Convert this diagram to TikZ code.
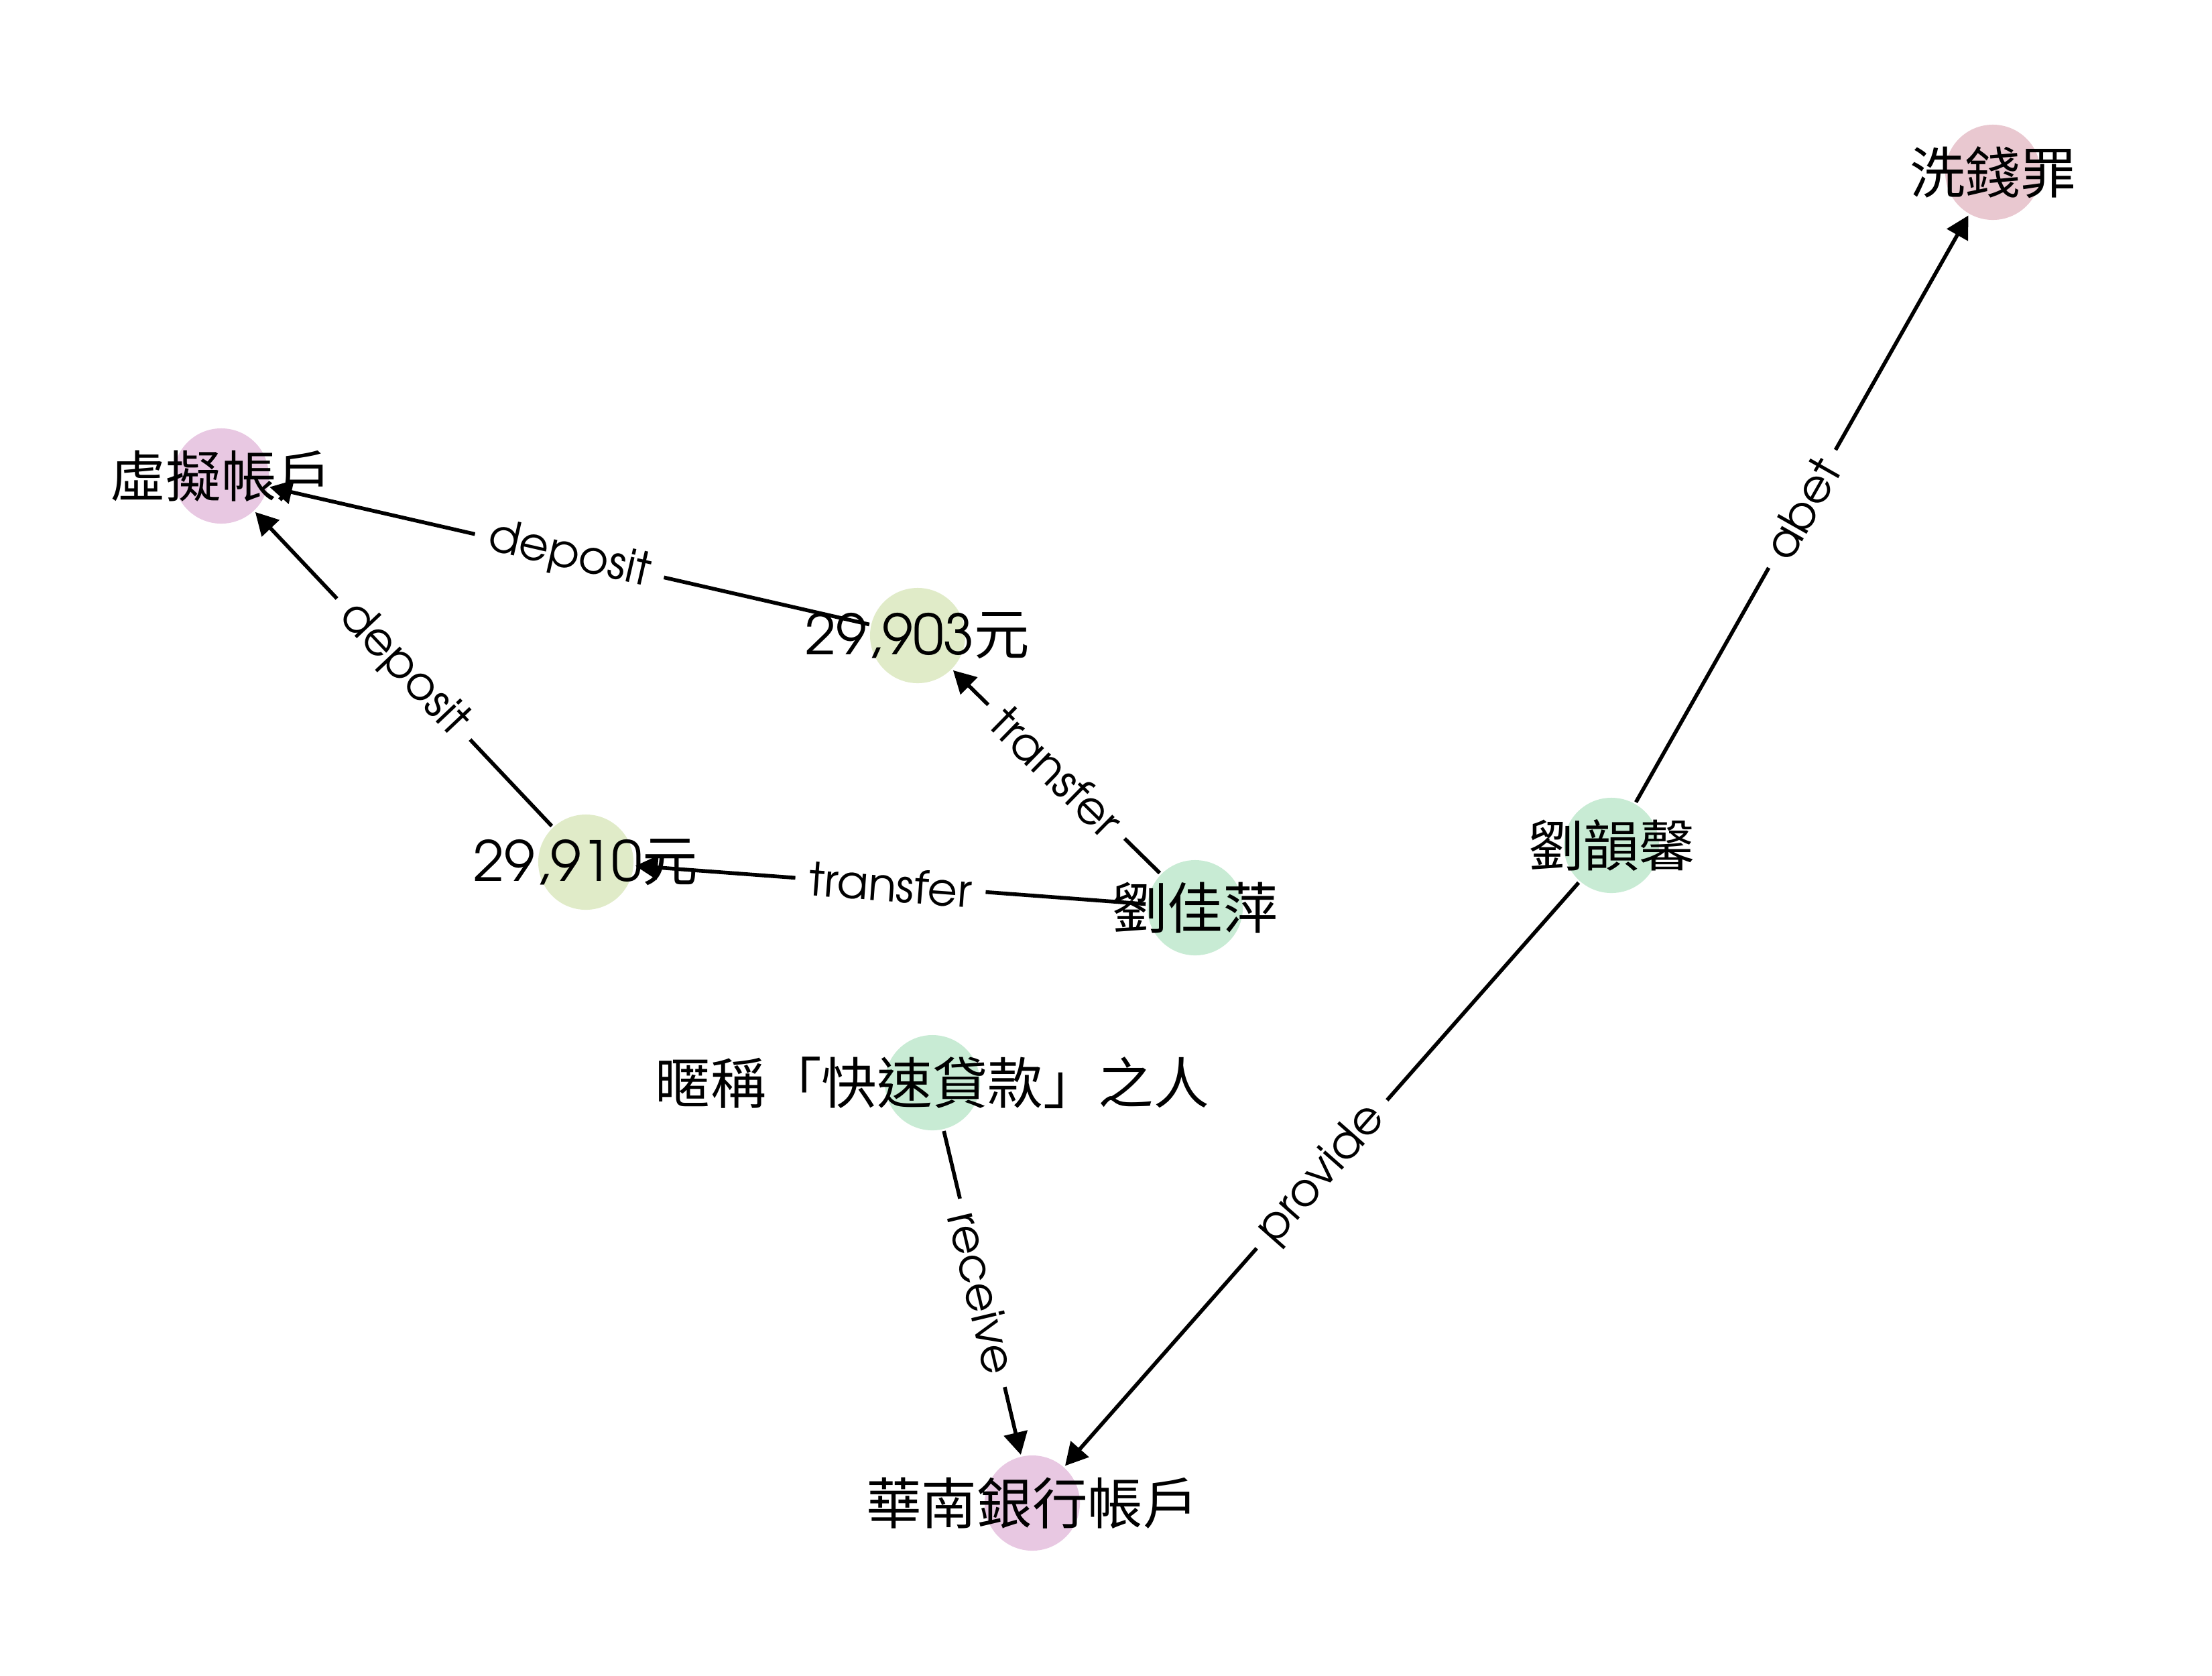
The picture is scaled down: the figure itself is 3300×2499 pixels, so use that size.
\documentclass[tikz,border=0pt]{standalone}
\usepackage{fontspec}
\newfontfamily\cjk{Noto Sans CJK TC}
\newfontfamily\gothic{texgyreadventor-regular.otf}
\usetikzlibrary{arrows.meta}
\definecolor{crimeC}{RGB}{233,200,208}
\definecolor{acctC}{RGB}{232,200,226}
\definecolor{moneyC}{RGB}{224,235,200}
\definecolor{personC}{RGB}{200,235,212}
\tikzset{
  dotnode/.style={circle, minimum size=1.42cm, inner sep=0pt, outer sep=0.03cm, draw=none},
  txt/.style={inner sep=0pt, font=\cjk\fontsize{23.5}{28}\selectfont},
  edgeline/.style={line width=1.6pt, -{Triangle[length=9.5pt,width=10pt]}},
  elabel/.style={sloped, pos=0.5, fill=white, inner xsep=6pt, inner ysep=1pt, font=\gothic\fontsize{19.5}{22}\selectfont}
}
\begin{document}
\begin{tikzpicture}[x=0.01cm, y=-0.01cm]
\useasboundingbox (0,0) rectangle (3300,2499);
% circles
\node[dotnode, fill=crimeC]  (law)  at (2973,257)  {};
\node[dotnode, fill=acctC]   (virt) at (330,710)   {};
\node[dotnode, fill=moneyC]  (m903) at (1369,948)  {};
\node[dotnode, fill=moneyC]  (m910) at (874,1286)  {};
\node[dotnode, fill=personC] (ljp)  at (1783,1354) {};
\node[dotnode, fill=personC] (lyx)  at (2404,1261) {};
\node[dotnode, fill=personC] (nick) at (1391,1615) {};
\node[dotnode, fill=acctC]   (bank) at (1540,2242) {};
% edges
\draw[edgeline] (m903) -- node[elabel] {deposit} (virt);
\draw[edgeline] (m910) -- node[elabel] {deposit} (virt);
\draw[edgeline] (ljp) -- node[elabel] {transfer} (m903);
\draw[edgeline] (ljp) -- node[elabel] {transfer} (m910);
\draw[edgeline] (lyx) -- node[elabel] {abet} (law);
\draw[edgeline] (lyx) -- node[elabel] {provide} (bank);
\draw[edgeline] (nick) -- node[elabel] {receive} (bank);
% texts
\node[txt] (law-t)  at (law)  {洗錢罪};
\node[txt] (virt-t) at (virt) {虛擬帳戶};
\node[txt] (m903-t) at (m903) {{\gothic 29,903}元};
\node[txt] (m910-t) at (m910) {{\gothic 29,910}元};
\node[txt] (ljp-t)  at (ljp)  {劉佳萍};
\node[txt] (lyx-t)  at (lyx)  {劉韻馨};
\node[txt] (nick-t) at (nick) {暱稱「快速貸款」之人};
\node[txt] (bank-t) at (bank) {華南銀行帳戶};
\end{tikzpicture}
\end{document}
